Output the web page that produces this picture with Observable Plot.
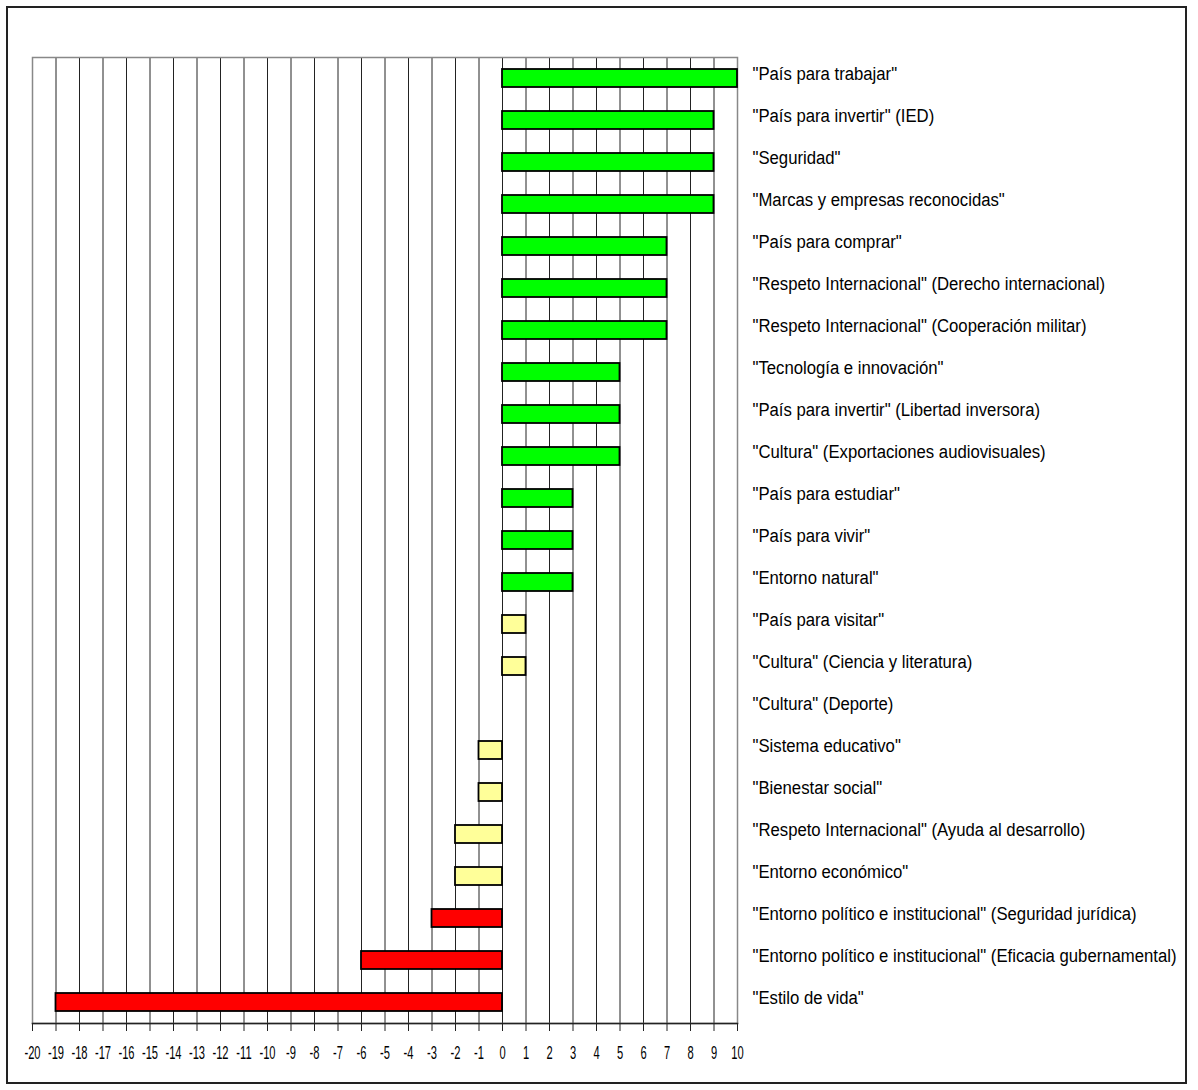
<!DOCTYPE html>
<html>
<head>
<meta charset="utf-8">
<script src="https://cdn.jsdelivr.net/npm/d3@7"></script>
<script src="https://cdn.jsdelivr.net/npm/@observablehq/plot@0.6"></script>
<style>
  html, body { margin: 0; padding: 0; background: #fff; }
  #wrap { position: relative; width: 1198px; height: 1090px; }
  #border { position: absolute; left: 6px; top: 6px; width: 1177px; height: 1074px; border: 2px solid #222; pointer-events: none; }
</style>
</head>
<body>
<div id="wrap"><div id="chart"></div><div id="border"></div></div>
<script>
const categories = [
  "\"País para trabajar\"",
  "\"País para invertir\" (IED)",
  "\"Seguridad\"",
  "\"Marcas y empresas reconocidas\"",
  "\"País para comprar\"",
  "\"Respeto Internacional\" (Derecho internacional)",
  "\"Respeto Internacional\" (Cooperación militar)",
  "\"Tecnología e innovación\"",
  "\"País para invertir\" (Libertad inversora)",
  "\"Cultura\" (Exportaciones audiovisuales)",
  "\"País para estudiar\"",
  "\"País para vivir\"",
  "\"Entorno natural\"",
  "\"País para visitar\"",
  "\"Cultura\" (Ciencia y literatura)",
  "\"Cultura\" (Deporte)",
  "\"Sistema educativo\"",
  "\"Bienestar social\"",
  "\"Respeto Internacional\" (Ayuda al desarrollo)",
  "\"Entorno económico\"",
  "\"Entorno político e institucional\" (Seguridad jurídica)",
  "\"Entorno político e institucional\" (Eficacia gubernamental)",
  "\"Estilo de vida\""
];
const values = [10, 9, 9, 9, 7, 7, 7, 5, 5, 5, 3, 3, 3, 1, 1, 0, -1, -1, -2, -2, -3, -6, -19];
const groups = ["alto","alto","alto","alto","alto","alto","alto","alto","alto","alto","alto","alto","alto",
  "medio","medio","medio","medio","medio","medio","medio","bajo","bajo","bajo"];
const groupNames = ["alto", "medio", "bajo"];
const groupColors = ["#00ff00", "#ffff99", "#ff0000"];
const ticks = [-20,-19,-18,-17,-16,-15,-14,-13,-12,-11,-10,-9,-8,-7,-6,-5,-4,-3,-2,-1,0,1,2,3,4,5,6,7,8,9,10];

const data = categories.map((c, i) => ({category: c, value: values[i], group: groups[i]}));

const chart = Plot.plot({
  width: 1198,
  height: 1090,
  marginLeft: 32,
  marginRight: 461,
  marginTop: 57,
  marginBottom: 67,
  style: {fontFamily: "'Liberation Sans', Arial, sans-serif", background: "transparent"},
  x: {domain: [-20, 10]},
  y: {domain: categories, padding: 0},
  color: {domain: groupNames, range: groupColors},
  marks: [
    Plot.ruleX(ticks.slice(1, -1), {stroke: "#222", strokeWidth: 1}),
    Plot.frame({stroke: "#888", strokeWidth: 1.5}),
    Plot.frame({anchor: "bottom", stroke: "#222", strokeWidth: 1.5}),
    Plot.barX(data, {y: "category", x: "value", fill: "group", stroke: "#000", strokeWidth: 1.8, insetTop: 12, insetBottom: 12}),
    Plot.axisX({ticks: ticks, tickSize: 8, tickPadding: 15, tickFormat: d => String(d), fontSize: 18, stroke: "#222", label: null, fill: "#000"}),
    Plot.axisY({anchor: "right", tickSize: 0, tickPadding: 15, dy: -5, fontSize: 19, label: null, fill: "#000"})
  ]
});
document.getElementById("chart").appendChild(chart);

// condense the label text horizontally around each label's own anchor point
function squeeze(selector, s) {
  chart.querySelectorAll(selector).forEach(el => {
    const t = el.getAttribute("transform") || "";
    el.setAttribute("transform", `${t} scale(${s},1)`);
  });
}
squeeze('g[aria-label="y-axis tick label"] text', 0.88);
squeeze('g[aria-label="x-axis tick label"] text', 0.62);
</script>
</body>
</html>
